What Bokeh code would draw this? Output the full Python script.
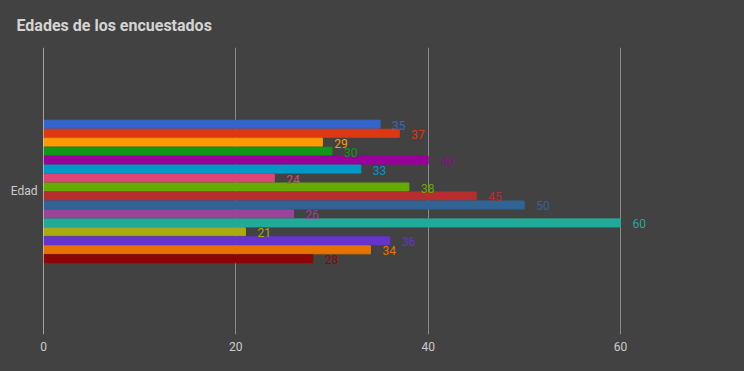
from bokeh.plotting import figure
from bokeh.models import Range1d, FixedTicker, Span, ColumnDataSource
from bokeh.core.properties import value
from bokeh.embed import file_html
from bokeh.resources import INLINE

# Data
category = "Edad"
ages = [35, 37, 29, 30, 40, 33, 24, 38, 45, 50, 26, 60, 21, 36, 34, 28]
colors = ["#3366cc", "#dc3912", "#ff9900", "#109618", "#990099", "#0099c6",
          "#dd4477", "#66aa00", "#b82e2e", "#316395", "#994499", "#22aa99",
          "#aaaa11", "#6633cc", "#e67300", "#8b0707"]
x_ticks = [0, 20, 40, 60]
title_text = "Edades de los encuestados"

BG = "#424242"
n = len(ages)
ypos = [n - 1 - i for i in range(n)]
center = (n - 1) / 2

src = ColumnDataSource(dict(y=ypos, v=ages, c=colors, lbl=[str(a) for a in ages]))

p = figure(width=744, height=371, output_backend="svg", toolbar_location=None,
           x_range=Range1d(0, 72.9), y_range=Range1d(-8.445, 23.555),
           min_border_left=43, min_border_right=0, min_border_top=46,
           min_border_bottom=37)
p.background_fill_color = BG
p.border_fill_color = BG
p.outline_line_color = None

p.title.text = title_text
p.title.text_font = "Roboto"
p.title.text_font_size = "16px"
p.title.text_font_style = "bold"
p.title.text_color = "#d4d4d4"
p.title.offset = -27
p.title.standoff = 26

p.hbar(y="y", right="v", left=0, height=0.89, color="c", source=src)
p.text(x="v", y="y", text="lbl", text_color="c", source=src,
       text_font=value("Roboto"), text_font_size="12px",
       text_align="left", text_baseline="middle", x_offset=12, y_offset=1)

p.add_layout(Span(location=0, dimension="height", line_color="#ffffff", line_width=1))

p.xaxis.ticker = FixedTicker(ticks=x_ticks)
p.xaxis.axis_line_color = None
p.xaxis.major_tick_line_color = None
p.xaxis.minor_tick_line_color = None
p.xaxis.major_tick_out = 0
p.xaxis.minor_tick_out = 0
p.xaxis.major_label_text_color = "#cccccc"
p.xaxis.major_label_text_font = "Roboto"
p.xaxis.major_label_text_font_size = "12px"
p.xaxis.major_label_standoff = 7

p.yaxis.ticker = FixedTicker(ticks=[center])
p.yaxis.major_label_overrides = {center: category}
p.yaxis.axis_line_color = None
p.yaxis.major_tick_line_color = None
p.yaxis.minor_tick_line_color = None
p.yaxis.major_tick_out = 0
p.yaxis.minor_tick_out = 0
p.yaxis.major_label_text_color = "#cccccc"
p.yaxis.major_label_text_font = "Roboto"
p.yaxis.major_label_text_font_size = "12px"
p.yaxis.major_label_standoff = 6

p.xgrid.ticker = FixedTicker(ticks=x_ticks)
p.xgrid.grid_line_color = "#8a8a8a"
p.xgrid.grid_line_width = 1
p.ygrid.grid_line_color = None

html = file_html(p, INLINE)
style = "<style>html, body, div { background-color: #424242 !important; }</style>"
html = html.replace("</head>", style + "</head>", 1)
open("out.html", "w").write(html)
